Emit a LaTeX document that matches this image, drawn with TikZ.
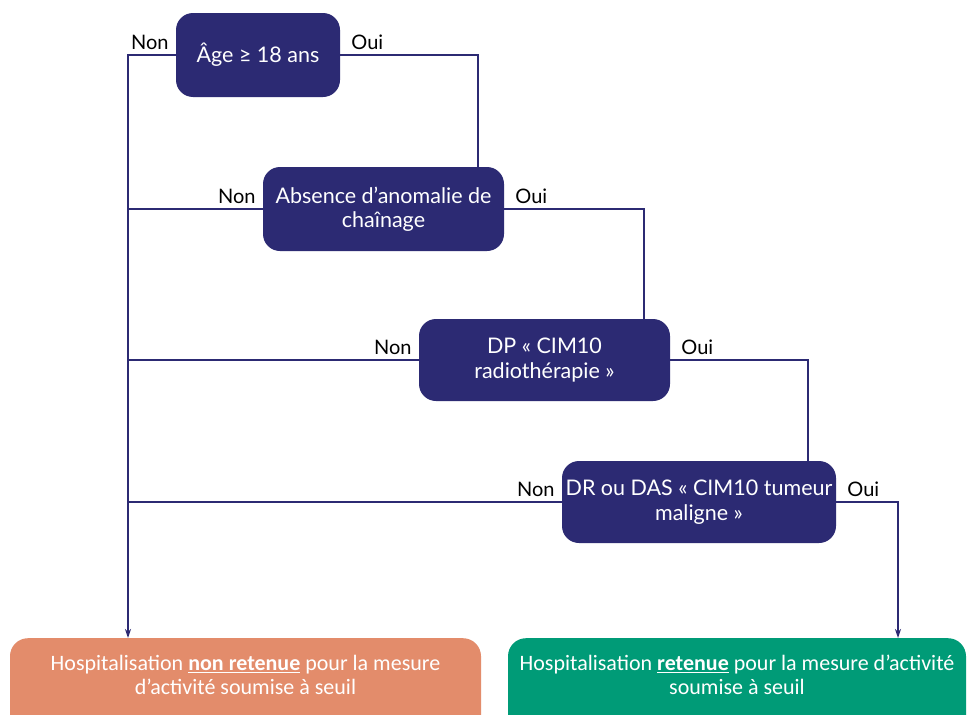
\documentclass[tikz,border=0pt]{standalone}
\usepackage{fontspec}
\setmainfont{Lato}
\newfontfamily\outfont{Carlito}
\usetikzlibrary{arrows.meta}
\definecolor{navy}{HTML}{2C2A73}
\definecolor{orangeb}{HTML}{E38C6B}
\definecolor{greenb}{HTML}{009B77}
\begin{document}
\begin{tikzpicture}[x=1pt,y=-1pt,
  decision/.style={fill=navy, rounded corners=17pt, text=white, align=center,
    font=\fontsize{21.5}{24.5}\selectfont, inner sep=0pt},
  outcome/.style={rounded corners=18pt, text=white, align=center, anchor=north,
    font=\outfont\fontsize{22}{24}\selectfont, inner sep=0pt, text depth=36pt, minimum height=110pt},
  link/.style={draw=navy, line width=1.4pt},
  tip/.style={-{Stealth[length=9pt,width=6pt]}},
  lab/.style={font=\fontsize{20}{22}\selectfont, text=black, inner sep=0pt, yshift=5pt},
  nonlab/.style={lab, anchor=south east, xshift=-7pt},
  ouilab/.style={lab, anchor=south west, xshift=11pt}]
\useasboundingbox (0,0) rectangle (967,715);
\clip (0,0) rectangle (967,715);
\fill[white] (0,0) rectangle (967,715);

\node[decision, minimum width=164pt, minimum height=84pt] (b1) at (258,55) {\^Age ≥ 18 ans};
\node[decision, minimum width=241pt, minimum height=84pt] (b2) at (383.5,209) {Absence d’anomalie de\\chaînage};
\node[decision, minimum width=251pt, minimum height=82pt] (b3) at (544.5,360) {DP « CIM10\\radiothérapie »};
\node[decision, minimum width=274pt, minimum height=82pt] (b4) at (699,502) {DR ou DAS « CIM10 tumeur\\maligne »};

\node[outcome, fill=orangeb, minimum width=471pt] (nr) at (245.5,638) {Hospitalisation \textbf{\underline{non retenue}} pour la mesure\\d’activité soumise à seuil};
\node[outcome, fill=greenb, minimum width=458pt] (re) at (737,638) {Hospitalisation \textbf{\underline{retenue}} pour la mesure d’activité\\soumise à seuil};

\coordinate (nrtop) at (128,638);
\coordinate (retop) at (898,638);

% Non branches
\draw[link, tip] (b1.west) -| (nrtop);
\draw[link] (b2.west) -- (b2.west -| nrtop);
\draw[link] (b3.west) -- (b3.west -| nrtop);
\draw[link] (b4.west) -- (b4.west -| nrtop);

% Oui branches
\draw[link] (b1.east) -| ([xshift=94.5pt]b2.north);
\draw[link] (b2.east) -| ([xshift=99.5pt]b3.north);
\draw[link] (b3.east) -| ([xshift=109pt]b4.north);
\draw[link, tip] (b4.east) -| (retop);

\node[nonlab] at (b1.west) {Non};
\node[ouilab] at (b1.east) {Oui};
\node[nonlab] at (b2.west) {Non};
\node[ouilab] at (b2.east) {Oui};
\node[nonlab] at (b3.west) {Non};
\node[ouilab] at (b3.east) {Oui};
\node[nonlab] at (b4.west) {Non};
\node[ouilab] at (b4.east) {Oui};
\end{tikzpicture}
\end{document}
